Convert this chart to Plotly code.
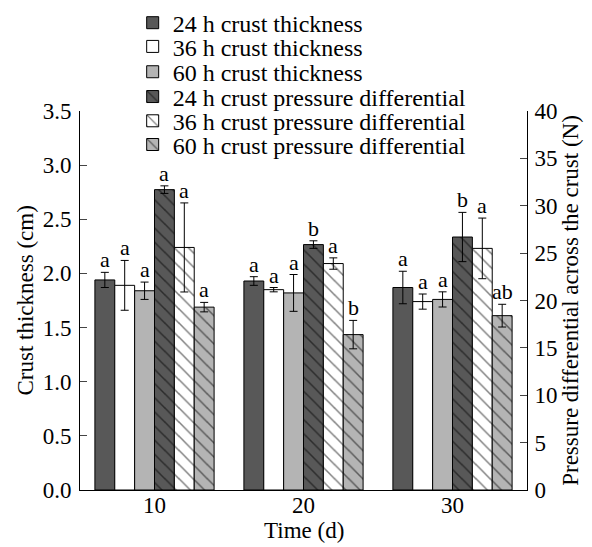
import plotly.graph_objects as go

days = ["10", "20", "30"]

thick_24 = [1.94, 1.93, 1.87]
thick_36 = [1.89, 1.85, 1.74]
thick_60 = [1.84, 1.82, 1.76]
thick_24_err = [0.07, 0.04, 0.15]
thick_36_err = [0.23, 0.02, 0.07]
thick_60_err = [0.08, 0.17, 0.07]

press_24 = [31.7, 25.9, 26.7]
press_36 = [25.6, 23.9, 25.5]
press_60 = [19.3, 16.4, 18.4]
press_24_err = [0.4, 0.4, 2.6]
press_36_err = [4.7, 0.6, 3.2]
press_60_err = [0.5, 1.5, 1.2]

letters = [
    ["a", "a", "a"],
    ["a", "a", "a"],
    ["a", "a", "a"],
    ["a", "b", "b"],
    ["a", "a", "a"],
    ["a", "b", "ab"],
]

names = [
    "24 h crust thickness",
    "36 h crust thickness",
    "60 h crust thickness",
    "24 h crust pressure differential",
    "36 h crust pressure differential",
    "60 h crust pressure differential",
]

DARK = "#585858"
LIGHT = "#b4b4b4"
WHITE = "#ffffff"
FONT = "Liberation Serif, Times New Roman, serif"
FS = 23

series = [
    (thick_24, thick_24_err, DARK, "", "y"),
    (thick_36, thick_36_err, WHITE, "", "y"),
    (thick_60, thick_60_err, LIGHT, "", "y"),
    (press_24, press_24_err, DARK, "\\", "y2"),
    (press_36, press_36_err, WHITE, "\\", "y2"),
    (press_60, press_60_err, LIGHT, "\\", "y2"),
]

# legend row centres, as fractions of the figure height
legend_rows = [0.972, 0.928, 0.881, 0.835, 0.790, 0.746]

fig = go.Figure()
for i, (vals, errs, col, pat, ax) in enumerate(series):
    lg = "legend" if i == 0 else f"legend{i + 1}"
    mk = dict(color=col, line=dict(color="black", width=1))
    if pat:
        mk["pattern"] = dict(shape=pat, fgcolor="black", bgcolor=col,
                             size=10, solidity=0.15)
    fig.add_trace(go.Bar(
        x=days, y=vals, name=names[i], yaxis=ax, xaxis="x", legend=lg,
        offsetgroup=str(i), marker=mk,
        error_y=dict(type="data", array=errs, color="black", thickness=1, width=4),
    ))

# letters above error bars (x given as category index)
bar_px = 19.9
for i, (vals, errs, col, pat, ax) in enumerate(series):
    for j, d in enumerate(days):
        fig.add_annotation(
            x=j, y=vals[j] + errs[j], xref="x", yref=ax,
            text=letters[i][j], showarrow=False, yanchor="bottom",
            xshift=(i - 2.5) * bar_px, yshift=-2,
            font=dict(family=FONT, size=22, color="black"),
        )

fig.add_annotation(
    text="Time (d)", x=0.5, y=-0.106, xref="paper", yref="paper",
    showarrow=False, xanchor="center", yanchor="middle",
    font=dict(family=FONT, size=FS, color="black"),
)
fig.add_annotation(
    text="Crust thickness (cm)", x=-0.123, y=0.5, xref="paper", yref="paper",
    showarrow=False, xanchor="center", yanchor="middle", textangle=-90,
    font=dict(family=FONT, size=FS, color="black"),
)

legends = {}
for i, yy in enumerate(legend_rows):
    key = "legend" if i == 0 else f"legend{i + 1}"
    legends[key] = dict(x=0.2135, y=yy, xref="container", yref="container",
                        xanchor="left", yanchor="middle",
                        bgcolor="rgba(0,0,0,0)", font=dict(family=FONT, size=24),
                        itemwidth=30, borderwidth=0)

fig.update_layout(
    width=584, height=539,
    margin=dict(l=72, r=65, t=103, b=57, autoexpand=False),
    plot_bgcolor="white", paper_bgcolor="white",
    barmode="group", bargap=0.2, bargroupgap=0,
    font=dict(family=FONT, size=FS, color="black"),
    showlegend=True,
    xaxis=dict(type="category", range=[-0.5, 2.5], showline=True,
               linecolor="black", linewidth=1,
               ticks="", ticklabelstandoff=-6, tickfont=dict(size=FS)),
    yaxis=dict(range=[0, 3.5], dtick=0.5, tickformat=".1f", showline=True,
               linecolor="black", linewidth=1, ticks="inside", ticklen=7,
               showgrid=False, zeroline=False, ticklabelstandoff=3,
               tickfont=dict(size=FS)),
    yaxis2=dict(range=[0, 40], dtick=5, overlaying="y", side="right",
                showline=True, linecolor="black", linewidth=1, ticks="inside",
                ticklen=7, showgrid=False, zeroline=False, ticklabelstandoff=2,
                title=dict(text="Pressure differential across the crust (N)",
                           font=dict(size=FS), standoff=2),
                tickfont=dict(size=FS)),
    **legends,
)

fig.write_html("out.html")
